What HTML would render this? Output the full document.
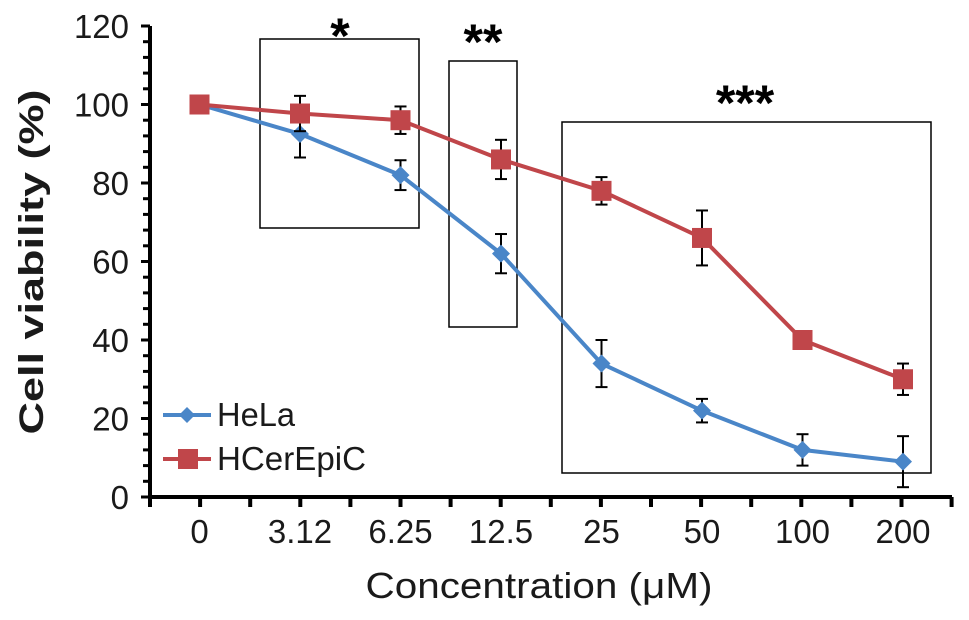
<!DOCTYPE html>
<html><head><meta charset="utf-8"><style>
body{margin:0;background:#fff}
svg{display:block;font-family:"Liberation Sans",Arial,sans-serif}
</style></head><body>
<svg id="c" width="969" height="620"></svg>
<script>
const categories=["0","3.12","6.25","12.5","25","50","100","200"];
const helaValues=[100,92.5,82,62,34,22,12,9];
const helaErrors=[0,6,3.8,5,6,3,4,6.5];
const hcerValues=[100,97.7,96,86,78,66,40,30];
const hcerErrors=[0,4.5,3.5,5,3.5,7,0,4];
const yTicks=[0,20,40,60,80,100,120];
const NS="http://www.w3.org/2000/svg";
const svg=document.getElementById('c');
const X0=150,X1=952,Y0=497,Y1=26;
const TC='#1a1a1a';
function xs(i){return 199.5+i*100.5;}
function ys(v){return Y0-(v/120)*(Y0-Y1);}
function el(t,a,p){const e=document.createElementNS(NS,t);for(const k in a)e.setAttribute(k,a[k]);(p||svg).appendChild(e);return e;}
function txt(s,a){const e=el('text',a);e.textContent=s;return e;}
let ya=el('line',{x1:X0,y1:Y1,x2:X0,y2:Y0+1,stroke:'#000','stroke-width':4});

let xa=el('line',{x1:X0-2,y1:Y0,x2:X1,y2:Y0,stroke:'#000','stroke-width':4});

for(let v=0;v<=120;v+=4){const major=v%20===0;el('line',{x1:X0-(major?9:7),x2:X0,y1:ys(v),y2:ys(v),stroke:'#000','stroke-width':3});}
yTicks.forEach(v=>{const t=txt(v,{x:X0-21,y:ys(v)+12,'font-size':33,'text-anchor':'end',fill:TC});
});
for(let i=0;i<=16;i++){const x=X0+i*50.1;el('line',{x1:x,x2:x,y1:Y0,y2:Y0+10,stroke:'#000','stroke-width':4});}
categories.forEach((c,i)=>{const t=txt(c,{x:xs(i),y:543,'font-size':33,'text-anchor':'middle',fill:TC});
});
let yl=txt('Cell viability (%)',{x:0,y:0,'font-size':34,'font-weight':'bold','text-anchor':'middle',textLength:345,lengthAdjust:'spacingAndGlyphs',fill:TC,transform:'translate(43,262) rotate(-90)'});

let xl=txt('Concentration (μM)',{x:539,y:598,'font-size':36,'text-anchor':'middle',textLength:347,lengthAdjust:'spacingAndGlyphs',fill:TC});

[[260,39,419,228,'*',340,53],[449,61,517,327,'**',483,59],[562,122,931,473,'***',745,120]].forEach(b=>{
 const r=el('rect',{x:b[0],y:b[1],width:b[2]-b[0],height:b[3]-b[1],fill:'none',stroke:'#000','stroke-width':1.5});
 
 const s=txt(b[4],{x:b[5],y:b[6],'font-size':50,'font-weight':'bold','text-anchor':'middle'});
 });
function series(vals,errs,color,name,square){
 const g=el('g',{});
 el('polyline',{points:vals.map((v,i)=>xs(i)+','+ys(v)).join(' '),fill:'none',stroke:color,'stroke-width':4},g);
 vals.forEach((v,i)=>{const e=errs[i];if(e>0){const x=xs(i);
  el('line',{x1:x,x2:x,y1:ys(v+e),y2:ys(v-e),stroke:'#000','stroke-width':2},g);
  el('line',{x1:x-6,x2:x+6,y1:ys(v+e),y2:ys(v+e),stroke:'#000','stroke-width':2},g);
  el('line',{x1:x-6,x2:x+6,y1:ys(v-e),y2:ys(v-e),stroke:'#000','stroke-width':2},g);}});
 vals.forEach((v,i)=>{const x=xs(i),y=ys(v);let m;
  if(square)m=el('rect',{x:x-10,y:y-10,width:20,height:20,fill:color},g);
  else m=el('polygon',{points:`${x},${y-9} ${x+9},${y} ${x},${y+9} ${x-9},${y}`,fill:color},g);
  });
}
series(helaValues,helaErrors,'#4a86c8','hela',false);
series(hcerValues,hcerErrors,'#c0464a','hcerepic',true);
const lg=el('g',{});
el('line',{x1:163,x2:211,y1:415,y2:415,stroke:'#4a86c8','stroke-width':4},lg);
el('polygon',{points:'187,407 195,415 187,423 179,415',fill:'#4a86c8'},lg);
let t1=txt('HeLa',{x:217,y:426,'font-size':33,textLength:78,lengthAdjust:'spacingAndGlyphs',fill:TC});lg.appendChild(t1);
el('line',{x1:163,x2:211,y1:459,y2:459,stroke:'#c0464a','stroke-width':4},lg);
el('rect',{x:178,y:449,width:20,height:20,fill:'#c0464a'},lg);
let t2=txt('HCerEpiC',{x:217,y:470,'font-size':33,textLength:149,lengthAdjust:'spacingAndGlyphs',fill:TC});lg.appendChild(t2);
</script>
</body></html>
